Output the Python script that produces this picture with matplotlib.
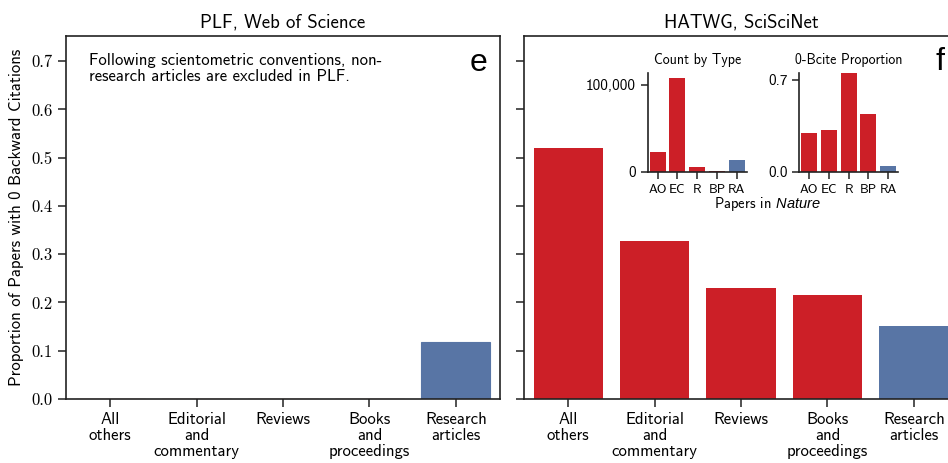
import matplotlib
matplotlib.use("Agg")
import matplotlib.pyplot as plt

# ---------------- data ----------------
categories = ["All\nothers", "Editorial\nand\ncommentary", "Reviews",
              "Books\nand\nproceedings", "Research\narticles"]
plf_values = [0.0, 0.0, 0.0, 0.0, 0.118]
hatwg_values = [0.520, 0.327, 0.230, 0.215, 0.151]

inset_labels = ["AO", "EC", "R", "BP", "RA"]
count_values = [22700, 108000, 5400, 600, 13500]
zero_bcite_values = [0.295, 0.318, 0.753, 0.440, 0.044]

main_yticks = [0.0, 0.1, 0.2, 0.3, 0.4, 0.5, 0.6, 0.7]
main_yticklabels = ["0.0", "0.1", "0.2", "0.3", "0.4", "0.5", "0.6", "0.7"]
count_yticks = [0, 100000]
count_yticklabels = ["0", "100,000"]
prop_yticks = [0.0, 0.7]
prop_yticklabels = ["0.0", "0.7"]

RED = "#CC1F27"
BLUE = "#5875A5"
colors = [RED, RED, RED, RED, BLUE]

# ---------------- style ----------------
plt.rcParams["font.family"] = ["cmss10", "DejaVu Sans"]
plt.rcParams["mathtext.fontset"] = "custom"
plt.rcParams["mathtext.it"] = "Liberation Sans:italic"
plt.rcParams["mathtext.rm"] = "Liberation Sans"
SPINE = "#222222"

W, H = 948, 463
fig = plt.figure(figsize=(W / 100, H / 100), dpi=100)


def px_axes(x0, y0, x1, y1):
    return fig.add_axes([x0 / W, (H - y1) / H, (x1 - x0) / W, (y1 - y0) / H])


ax1 = px_axes(66, 36, 500, 399)
ax2 = px_axes(524, 36, 958, 399)

xs = list(range(len(categories)))

ax1.bar(xs, plf_values, width=0.8, color=colors, edgecolor=colors, linewidth=0.8)
ax2.bar(xs, hatwg_values, width=0.8, color=colors, linewidth=0)

for ax in (ax1, ax2):
    ax.set_xlim(-0.51, 4.51)
    ax.set_ylim(0, 0.752)
    ax.set_xticks(xs, labels=categories, linespacing=1.08, fontsize=12)
    ax.set_yticks(main_yticks)
    ax.tick_params(direction="out", length=5.5, width=1.1, color=SPINE, pad=4)
    for s in ax.spines.values():
        s.set_color(SPINE)
        s.set_linewidth(1.2)

ax1.set_yticklabels(main_yticklabels, fontfamily="cmr10", fontsize=12)
ax2.set_yticklabels([])

ax1.set_ylabel("Proportion of Papers with 0 Backward Citations", fontsize=12)
ax1.yaxis.set_label_coords(-0.097, 0.5)

ax1.set_title("PLF, Web of Science", fontsize=13.5)
ax2.set_title("HATWG, SciSciNet", fontsize=13.5)

ax1.text(0.054, 0.952,
         "Following scientometric conventions, non-\nresearch articles are excluded in PLF.",
         transform=ax1.transAxes, fontsize=12, linespacing=1.03, va="top", ha="left")

ax1.text(0.972, 0.9036, "e", transform=ax1.transAxes, fontsize=23,
         family="Liberation Sans", ha="right", va="baseline")
ax2.text(0.968, 0.906, "f", transform=ax2.transAxes, fontsize=23,
         family="Liberation Sans", ha="right", va="baseline")

# ---------------- insets ----------------
in1 = px_axes(647.7, 73, 746.7, 171.7)
in2 = px_axes(799.3, 73, 898.0, 171.7)

in1.bar(xs, count_values, width=0.8, color=colors, linewidth=0)
in1.set_ylim(0, max(count_values) * 1.05)
in1.set_yticks(count_yticks, labels=count_yticklabels, fontsize=11)
in1.set_title("Count by Type", fontsize=10, pad=6.5)

in2.bar(xs, zero_bcite_values, width=0.8, color=colors, linewidth=0)
in2.set_ylim(0, 0.753)
in2.set_yticks(prop_yticks, labels=prop_yticklabels, fontsize=11)
in2.set_title("0-Bcite Proportion", fontsize=10, pad=6.5)

for ax in (in1, in2):
    ax.set_xlim(-0.5, 4.5)
    ax.set_xticks(xs, labels=inset_labels, fontsize=9.5)
    ax.spines["top"].set_visible(False)
    ax.spines["right"].set_visible(False)
    for s in ("left", "bottom"):
        ax.spines[s].set_color(SPINE)
        ax.spines[s].set_linewidth(1.2)
    ax.tick_params(direction="out", length=5, width=1.1, color=SPINE, pad=3.5)
    ax.patch.set_alpha(0)

fig.text(767 / W, (H - 208) / H, r"Papers in $\mathit{Nature}$", fontsize=10.5,
         ha="center", va="baseline")

fig.savefig("out.png", dpi=100)
